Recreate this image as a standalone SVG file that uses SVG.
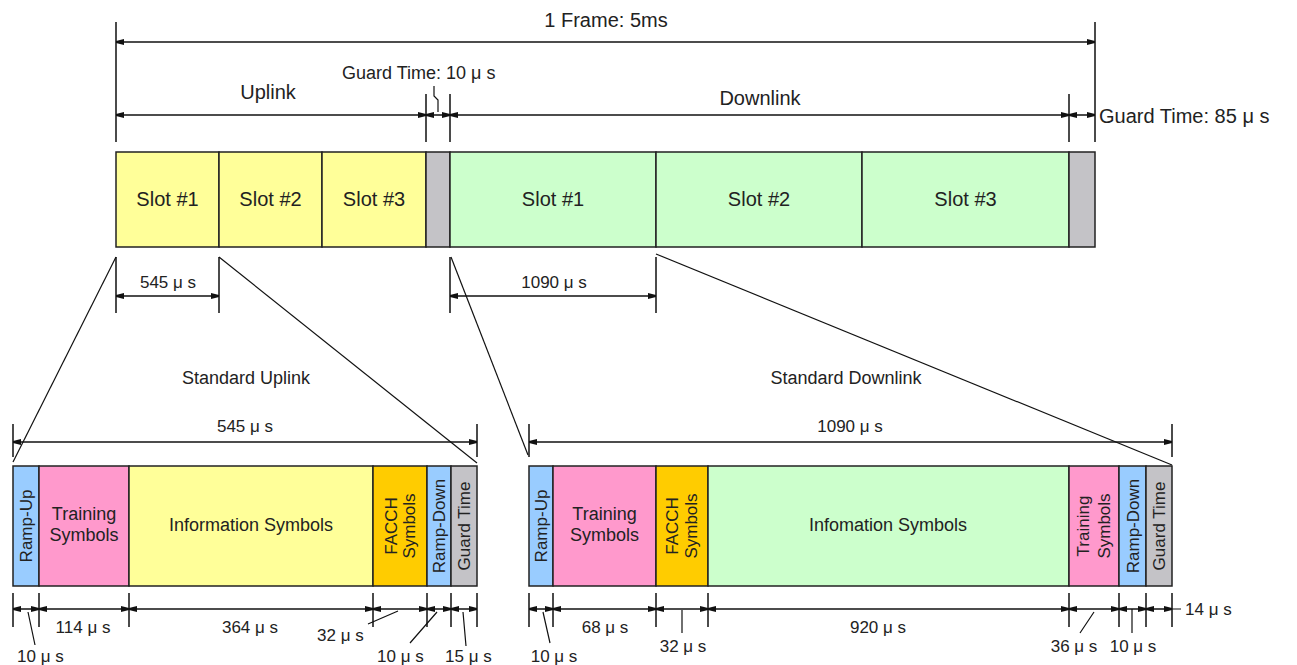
<svg xmlns="http://www.w3.org/2000/svg" width="1297" height="665" viewBox="0 0 1297 665">
<defs>
<marker id="ah" viewBox="0 0 8 6" refX="8" refY="3" markerWidth="8" markerHeight="6" markerUnits="userSpaceOnUse" orient="auto-start-reverse">
<path d="M0,0 L8,2 L8,4 L0,6 z" fill="#111"/>
</marker>
<style>
text{font-family:"Liberation Sans",Arial,sans-serif;fill:#222}
.t20{font-size:20px}
.t18{font-size:18px}
.t17{font-size:17px}
.mid{text-anchor:middle}
.box{stroke:#222;stroke-width:1.5}
.yel{fill:#FFFF99}
.grn{fill:#CCFFCC}
.gry{fill:#C4C3C7}
.pnk{fill:#FF99CC}
.blu{fill:#99CCFF}
.org{fill:#FFCC00}
.tick{stroke:#111;stroke-width:1.5;fill:none}
.dim{stroke:#111;stroke-width:1.5;fill:none;marker-start:url(#ah);marker-end:url(#ah)}
.thin{stroke:#111;stroke-width:1.2;fill:none}
</style>
</defs>
<rect width="1297" height="665" fill="#fff"/>

<!-- top frame bar -->
<g id="ul-slot1"><rect class="box yel" x="116" y="152" width="103" height="95"/><text class="t20 mid" x="167.5" y="206">Slot #1</text></g>
<g id="ul-slot2"><rect class="box yel" x="219" y="152" width="103" height="95"/><text class="t20 mid" x="270.5" y="206">Slot #2</text></g>
<g id="ul-slot3"><rect class="box yel" x="322" y="152" width="104" height="95"/><text class="t20 mid" x="374" y="206">Slot #3</text></g>
<g id="guard1"><rect class="box gry" x="426" y="152" width="24" height="95"/></g>
<g id="dl-slot1"><rect class="box grn" x="450" y="152" width="206" height="95"/><text class="t20 mid" x="553" y="206">Slot #1</text></g>
<g id="dl-slot2"><rect class="box grn" x="656" y="152" width="206" height="95"/><text class="t20 mid" x="759" y="206">Slot #2</text></g>
<g id="dl-slot3"><rect class="box grn" x="862" y="152" width="207" height="95"/><text class="t20 mid" x="965.5" y="206">Slot #3</text></g>
<g id="guard2"><rect class="box gry" x="1069" y="152" width="26" height="95"/></g>

<!-- standard uplink bar -->
<g id="su-rampup"><rect class="box blu" x="13" y="466" width="26" height="120"/><text class="t17 mid" transform="translate(26,526) rotate(-90)" x="0" y="6">Ramp-Up</text></g>
<g id="su-training"><rect class="box pnk" x="39" y="466" width="90" height="120"/><text class="t18 mid" x="84" y="520">Training</text><text class="t18 mid" x="84" y="541">Symbols</text></g>
<g id="su-info"><rect class="box yel" x="129" y="466" width="244" height="120"/><text class="t18 mid" x="251" y="531">Information Symbols</text></g>
<g id="su-facch"><rect class="box org" x="373" y="466" width="54" height="120"/><text class="t17 mid" transform="translate(400,526) rotate(-90)" x="0" y="-3">FACCH</text><text class="t17 mid" transform="translate(400,526) rotate(-90)" x="0" y="15">Symbols</text></g>
<g id="su-rampdown"><rect class="box blu" x="427" y="466" width="24" height="120"/><text class="t17 mid" transform="translate(439,526) rotate(-90)" x="0" y="6">Ramp-Down</text></g>
<g id="su-guard"><rect class="box gry" x="451" y="466" width="26" height="120"/><text class="t17 mid" transform="translate(464,526) rotate(-90)" x="0" y="6">Guard Time</text></g>

<!-- standard downlink bar -->
<g id="sd-rampup"><rect class="box blu" x="529" y="466" width="24" height="120"/><text class="t17 mid" transform="translate(541,526) rotate(-90)" x="0" y="6">Ramp-Up</text></g>
<g id="sd-training"><rect class="box pnk" x="553" y="466" width="103" height="120"/><text class="t18 mid" x="604.5" y="520">Training</text><text class="t18 mid" x="604.5" y="541">Symbols</text></g>
<g id="sd-facch"><rect class="box org" x="656" y="466" width="52" height="120"/><text class="t17 mid" transform="translate(682,526) rotate(-90)" x="0" y="-4">FACCH</text><text class="t17 mid" transform="translate(682,526) rotate(-90)" x="0" y="15">Symbols</text></g>
<g id="sd-info"><rect class="box grn" x="708" y="466" width="361" height="120"/><text class="t18 mid" x="888" y="531">Infomation Symbols</text></g>
<g id="sd-training2"><rect class="box pnk" x="1069" y="466" width="50" height="120"/><text class="t17 mid" transform="translate(1094,526) rotate(-90)" x="0" y="-5">Training</text><text class="t17 mid" transform="translate(1094,526) rotate(-90)" x="0" y="16">Symbols</text></g>
<g id="sd-rampdown"><rect class="box blu" x="1119" y="466" width="27" height="120"/><text class="t17 mid" transform="translate(1132.5,526) rotate(-90)" x="0" y="6">Ramp-Down</text></g>
<g id="sd-guard"><rect class="box gry" x="1146" y="466" width="26" height="120"/><text class="t17 mid" transform="translate(1159,526) rotate(-90)" x="0" y="6">Guard Time</text></g>

<g id="connectors">
<!-- top dimension ticks -->
<path class="tick" d="M116,22V142 M1095,22V142 M426,94V142 M450,94V142 M1069,94V142"/>
<line class="dim" x1="116" y1="42" x2="1095" y2="42"/>
<line class="dim" x1="116" y1="115" x2="426" y2="115"/>
<line class="dim" x1="426" y1="115" x2="450" y2="115"/>
<line class="dim" x1="450" y1="115" x2="1069" y2="115"/>
<line class="dim" x1="1069" y1="115" x2="1095" y2="115"/>
<polyline class="thin" points="434,86 434,96 438,100 438,112"/>

<!-- slot width dims -->
<path class="tick" d="M116,257V313 M219,257V313 M450,257V313 M656,257V313"/>
<line class="dim" x1="116" y1="296" x2="219" y2="296"/>
<line class="dim" x1="450" y1="296" x2="656" y2="296"/>

<!-- expansion lines -->
<line class="thin" x1="116" y1="257" x2="13" y2="462"/>
<line class="thin" x1="219" y1="257" x2="477" y2="463"/>
<line class="thin" x1="451" y1="257" x2="528" y2="455"/>
<line class="thin" x1="656" y1="254" x2="1172" y2="465"/>

<!-- lower overall dims -->
<path class="tick" d="M13,424V457 M477,424V457 M529,424V457 M1172,424V457"/>
<line class="dim" x1="13" y1="442" x2="477" y2="442"/>
<line class="dim" x1="529" y1="442" x2="1172" y2="442"/>

<!-- bottom-left segment dims -->
<path class="tick" d="M13,593V627 M39,593V627 M129,593V627 M373,593V627 M427,593V627 M451,593V627 M477,593V627"/>
<line class="dim" x1="13" y1="609" x2="39" y2="609"/>
<line class="dim" x1="39" y1="609" x2="129" y2="609"/>
<line class="dim" x1="129" y1="609" x2="373" y2="609"/>
<line class="dim" x1="373" y1="609" x2="427" y2="609"/>
<line class="dim" x1="427" y1="609" x2="451" y2="609"/>
<line class="dim" x1="451" y1="609" x2="477" y2="609"/>
<path class="thin" d="M28,612 L35,645 M398,611 L368,624 M437,612 L410,643 M463,612 L466,646"/>

<!-- bottom-right segment dims -->
<path class="tick" d="M529,593V627 M553,593V627 M656,593V627 M708,593V627 M1069,593V627 M1119,593V627 M1146,593V627 M1172,593V627"/>
<line class="dim" x1="529" y1="609" x2="553" y2="609"/>
<line class="dim" x1="553" y1="609" x2="656" y2="609"/>
<line class="dim" x1="656" y1="609" x2="708" y2="609"/>
<line class="dim" x1="708" y1="609" x2="1069" y2="609"/>
<line class="dim" x1="1069" y1="609" x2="1119" y2="609"/>
<line class="dim" x1="1119" y1="609" x2="1146" y2="609"/>
<line class="dim" x1="1146" y1="609" x2="1172" y2="609"/>
<path class="thin" d="M543,612 L550,643 M682,610 V633 M1094,612 L1080,633 M1132,609 V633 M1172,609 H1181"/>
</g>

<g id="labels">
<text class="t20 mid" x="606" y="27">1 Frame: 5ms</text>
<text class="t20 mid" x="268" y="99">Uplink</text>
<text class="t20 mid" x="760" y="105">Downlink</text>
<text class="t18" x="342" y="79">Guard Time: 10 μ s</text>
<text class="t20" x="1099" y="123">Guard Time: 85 μ s</text>
<text class="t17 mid" x="168" y="288">545 μ s</text>
<text class="t17 mid" x="554" y="288">1090 μ s</text>
<text class="t18 mid" x="246" y="384">Standard Uplink</text>
<text class="t18 mid" x="846" y="384">Standard Downlink</text>
<text class="t17 mid" x="245" y="432">545 μ s</text>
<text class="t17 mid" x="850" y="432">1090 μ s</text>
<text class="t17 mid" x="83" y="633">114 μ s</text>
<text class="t17 mid" x="250" y="633">364 μ s</text>
<text class="t17" x="317" y="641">32 μ s</text>
<text class="t17" x="17" y="662">10 μ s</text>
<text class="t17" x="377" y="662">10 μ s</text>
<text class="t17" x="445" y="662">15 μ s</text>
<text class="t17 mid" x="605" y="633">68 μ s</text>
<text class="t17 mid" x="683" y="652">32 μ s</text>
<text class="t17 mid" x="878" y="633">920 μ s</text>
<text class="t17 mid" x="554" y="662">10 μ s</text>
<text class="t17 mid" x="1074" y="652">36 μ s</text>
<text class="t17 mid" x="1133" y="652">10 μ s</text>
<text class="t17" x="1185" y="615">14 μ s</text>
</g>
</svg>
